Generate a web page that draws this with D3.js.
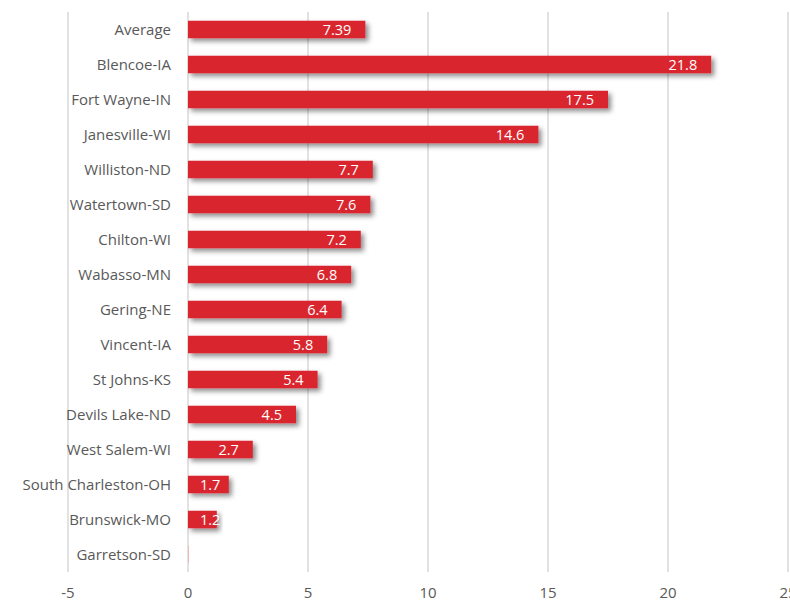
<!DOCTYPE html>
<html>
<head>
<meta charset="utf-8">
<style>
html, body {
  margin: 0;
  background: #fff;
  overflow: hidden;
}
text {
  font-family: "Open Sans", sans-serif;
}
.grid line {
  stroke: #d9d9d9;
  stroke-width: 1.5px;
}
.cat text {
  font-size: 15px;
  fill: #595959;
}
.xaxis text {
  font-size: 15px;
  fill: #595959;
}
.val {
  font-size: 14.5px;
  fill: #fff;
}
</style>
<script src="https://d3js.org/d3.v7.min.js"></script>
</head>
<body>
<svg width="790" height="603"></svg>
<script>
var categories = ["Average", "Blencoe-IA", "Fort Wayne-IN", "Janesville-WI", "Williston-ND",
  "Watertown-SD", "Chilton-WI", "Wabasso-MN", "Gering-NE", "Vincent-IA", "St Johns-KS",
  "Devils Lake-ND", "West Salem-WI", "South Charleston-OH", "Brunswick-MO", "Garretson-SD"];
var values = [7.39, 21.8, 17.5, 14.6, 7.7, 7.6, 7.2, 6.8, 6.4, 5.8, 5.4, 4.5, 2.7, 1.7, 1.2, 0];
var labels = ["7.39", "21.8", "17.5", "14.6", "7.7", "7.6", "7.2", "6.8", "6.4", "5.8", "5.4", "4.5", "2.7", "1.7", "1.2", ""];
var xTicks = [-5, 0, 5, 10, 15, 20, 25];

var svg = d3.select("svg");
var margin = {top: 12, left: 68, right: 2, bottom: 31};
var width = 790, height = 603;

var x = d3.scaleLinear().domain([-5, 25]).range([68, 788]);
var y = d3.scaleBand().domain(categories).range([margin.top, height - margin.bottom]).paddingInner(0.5).paddingOuter(0.25);

var defs = svg.append("defs");
var f = defs.append("filter").attr("id", "shadow")
  .attr("x", "-10%").attr("y", "-50%").attr("width", "130%").attr("height", "250%");
f.append("feDropShadow").attr("dx", 3).attr("dy", 3).attr("stdDeviation", 2.5)
  .attr("flood-color", "#000").attr("flood-opacity", 0.45);

// gridlines
svg.append("g").attr("class", "grid")
  .selectAll("line").data(xTicks).enter().append("line")
  .attr("x1", d => x(d)).attr("x2", d => x(d))
  .attr("y1", margin.top).attr("y2", height - margin.bottom);

// tick labels
svg.append("g").attr("class", "xaxis")
  .selectAll("text").data(xTicks).enter().append("text")
  .attr("x", d => x(d)).attr("y", 598)
  .attr("text-anchor", "middle")
  .text(d => d);

var data = categories.map((c, i) => ({cat: c, v: values[i], lab: labels[i]}));

svg.append("g")
  .selectAll("rect").data(data).enter().append("rect")
  .attr("x", d => x(0))
  .attr("y", d => y(d.cat))
  .attr("width", d => Math.max(1, x(d.v) - x(0)))
  .attr("height", y.bandwidth())
  .attr("fill", d => d.v > 0 ? "#d9262f" : "#f2b8bb")
  .attr("filter", d => d.v > 0 ? "url(#shadow)" : null);

// inside-end labels, kept clear of the bar start like Excel does
svg.append("g")
  .selectAll("text").data(data).enter().append("text")
  .attr("class", "val")
  .attr("y", d => y(d.cat) + y.bandwidth() / 2)
  .attr("dy", "0.36em")
  .text(d => d.lab)
  .attr("x", function(d) {
    var w = this.getComputedTextLength();
    return Math.max(x(0) + 12, x(d.v) - 14 - w);
  });

svg.append("g").attr("class", "cat")
  .selectAll("text").data(categories).enter().append("text")
  .attr("x", 171)
  .attr("y", d => y(d) + y.bandwidth() / 2)
  .attr("dy", "0.36em")
  .attr("text-anchor", "end")
  .text(d => d);
</script>
</body>
</html>
